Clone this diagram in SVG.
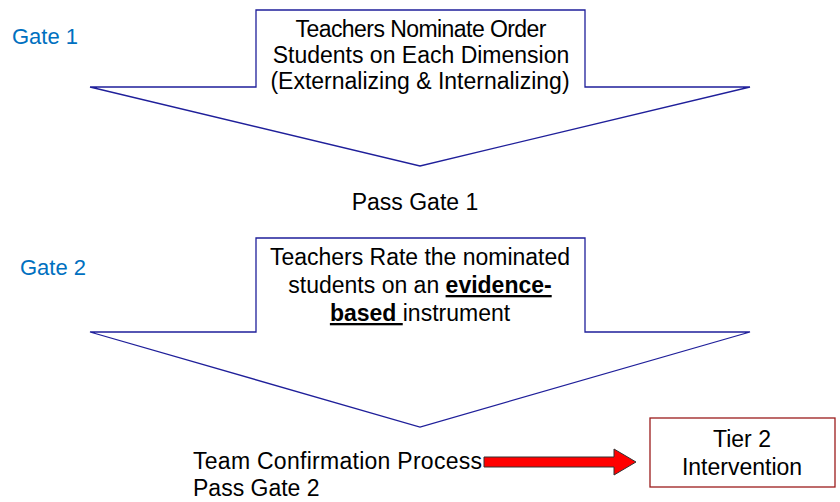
<svg xmlns="http://www.w3.org/2000/svg" width="840" height="502" viewBox="0 0 840 502">
<defs>
<style>
text{font-family:"Liberation Sans",Arial,sans-serif;font-size:23px;fill:#000}
.gate{fill:#0070C0;font-size:22px}
.c{text-anchor:middle}
.big{fill:#fff;stroke:#1F1F9A;stroke-width:1.3}
</style>
</defs>
<rect width="840" height="502" fill="#fff"/>
<text class="gate" x="12" y="44">Gate 1</text>
<text class="gate" x="20" y="275">Gate 2</text>
<g id="gate1-arrow">
<polygon class="big" points="256,10 585,10 585,87 750,87 420,166 90,87 256,87"/>
<text class="c" x="421" y="37" textLength="251" lengthAdjust="spacing">Teachers Nominate Order</text>
<text class="c" x="421" y="63">Students on Each Dimension</text>
<text class="c" x="420" y="89">(Externalizing &amp; Internalizing)</text>
</g>
<text class="c" x="415" y="210">Pass Gate 1</text>
<g id="gate2-arrow">
<polygon class="big" points="256,238 585,238 585,332 750,332 420,427 90,332 256,332"/>
<text class="c" x="420" y="265" textLength="300" lengthAdjust="spacing">Teachers Rate the nominated</text>
<text class="c" x="420" y="293">students on an <tspan font-weight="bold" text-decoration="underline">evidence-</tspan></text>
<text class="c" x="420" y="321"><tspan font-weight="bold" text-decoration="underline">based </tspan>instrument</text>
</g>
<g id="team">
<text x="193" y="469" textLength="289" lengthAdjust="spacing">Team Confirmation Process</text>
<text x="193" y="496">Pass Gate 2</text>
</g>
<g id="connectors">
<polygon points="484,457 614,457 614,449 636,462 614,475 614,467 484,467" fill="#FF0000" stroke="#333" stroke-width="1"/>
</g>
<g id="tier2">
<rect x="650" y="418" width="185" height="69" fill="#fff" stroke="#9B1C1C" stroke-width="1.3"/>
<text class="c" x="742" y="447">Tier 2</text>
<text class="c" x="742" y="475">Intervention</text>
</g>
</svg>
